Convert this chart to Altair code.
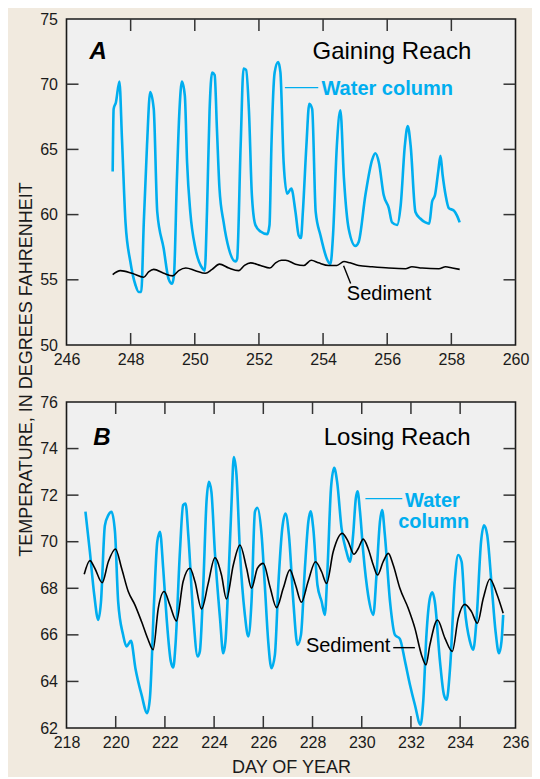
import altair as alt
import pandas as pd

# ---------------- Panel A: Gaining Reach ----------------
a_water_day = [247.44, 247.47, 247.54, 247.65, 247.73, 247.84, 247.99, 248.15, 248.25, 248.33,
               248.41, 248.51, 248.61, 248.72, 248.83, 249.03, 249.18, 249.29, 249.35, 249.44,
               249.52, 249.60, 249.69, 249.76, 249.86, 250.02, 250.23, 250.31, 250.38, 250.46,
               250.54, 250.62, 250.69, 250.77, 250.90, 251.06, 251.27, 251.32, 251.43, 251.52,
               251.60, 251.69, 251.78, 251.89, 252.05, 252.26, 252.33, 252.39, 252.49, 252.60,
               252.67, 252.77, 252.88, 253.01, 253.14, 253.24, 253.31, 253.37, 253.48, 253.57,
               253.66, 253.77, 253.92, 254.12, 254.23, 254.31, 254.43, 254.54, 254.65, 254.80,
               255.01, 255.11, 255.32, 255.53, 255.63, 255.74, 255.89, 256.05, 256.15, 256.31,
               256.42, 256.55, 256.64, 256.73, 256.88, 257.03, 257.19, 257.31, 257.40, 257.49,
               257.59, 257.66, 257.73, 257.82, 257.92, 258.08, 258.18, 258.26]
a_water_temp = [63.3, 68.1, 68.6, 70.2, 65.8, 59.4, 56.4, 54.6, 54.06, 54.06,
                59.4, 65.3, 69.4, 68.1, 60.2, 57.4, 55.1, 54.7, 55.3, 62.5,
                67.9, 70.2, 69.1, 64.0, 60.2, 57.4, 55.9, 55.7, 60.2, 67.9,
                70.9, 70.7, 66.6, 62.0, 59.4, 57.4, 56.4, 56.6, 65.3, 71.2,
                71.1, 67.9, 61.5, 59.2, 58.7, 58.5, 59.2, 65.3, 70.9, 71.7,
                70.9, 64.0, 61.6, 62.0, 60.2, 58.4, 58.2, 60.2, 65.3, 68.5,
                68.1, 60.2, 58.4, 56.6, 56.2, 58.4, 65.3, 68.0, 62.8, 58.9,
                57.6, 57.9, 61.5, 64.2, 64.7, 64.0, 61.5, 60.5, 59.4, 59.2,
                60.7, 65.3, 66.8, 65.3, 60.2, 59.7, 59.4, 59.3, 61.0, 61.5,
                63.3, 64.5, 63.0, 61.5, 60.5, 60.3, 59.9, 59.4]

a_sed_day = [247.44, 247.68, 248.04, 248.41, 248.56, 248.72, 249.03, 249.31, 249.50, 249.72,
             250.02, 250.33, 250.54, 250.77, 251.06, 251.37, 251.55, 251.74, 252.05, 252.34,
             252.52, 252.70, 252.83, 253.14, 253.40, 253.63, 253.86, 254.18, 254.43, 254.65,
             254.84, 255.11, 255.53, 256.05, 256.57, 256.77, 257.09, 257.61, 257.82, 258.03,
             258.26]
a_sed_temp = [55.4, 55.7, 55.5, 55.2, 55.6, 55.8, 55.5, 55.3, 55.7, 55.9,
              55.7, 55.5, 55.8, 56.2, 55.9, 55.7, 56.1, 56.3, 56.1, 55.9,
              56.3, 56.5, 56.5, 56.2, 56.1, 56.5, 56.3, 56.1, 56.1, 56.4,
              56.3, 56.1, 56.0, 55.9, 55.85, 56.0, 55.9, 55.85, 56.0, 55.9,
              55.8]

# ---------------- Panel B: Losing Reach ----------------
b_water_day = [218.77, 218.95, 219.13, 219.29, 219.40, 219.56, 219.70, 219.83, 219.97, 220.10,
               220.30, 220.44, 220.62, 220.80, 221.05, 221.28, 221.39, 221.56, 221.69, 221.80,
               221.93, 222.07, 222.24, 222.34, 222.43, 222.61, 222.74, 222.84, 222.95, 223.15,
               223.33, 223.42, 223.56, 223.69, 223.79, 223.89, 224.03, 224.24, 224.37, 224.46,
               224.60, 224.71, 224.80, 224.91, 225.05, 225.25, 225.39, 225.52, 225.66, 225.76,
               225.93, 226.06, 226.20, 226.33, 226.47, 226.61, 226.77, 226.90, 227.04, 227.22,
               227.39, 227.53, 227.69, 227.83, 227.92, 228.03, 228.20, 228.37, 228.50, 228.61,
               228.75, 228.88, 229.00, 229.18, 229.38, 229.52, 229.65, 229.76, 229.83, 229.93,
               230.06, 230.26, 230.47, 230.60, 230.74, 230.83, 230.94, 231.15, 231.35, 231.55,
               231.76, 231.96, 232.16, 232.39, 232.50, 232.63, 232.77, 232.87, 232.97, 233.18,
               233.34, 233.45, 233.59, 233.79, 233.92, 234.06, 234.19, 234.40, 234.53, 234.67,
               234.85, 234.97, 235.10, 235.28, 235.44, 235.58, 235.68, 235.75]
b_water_temp = [71.29, 69.57, 67.70, 66.64, 67.40, 70.70, 71.14, 71.29, 70.43, 67.43,
                66.00, 65.50, 65.74, 64.57, 63.43, 62.64, 63.28, 67.43, 70.00, 70.43,
                68.86, 66.71, 64.86, 64.60, 65.57, 69.57, 71.57, 71.64, 70.29, 66.86,
                65.07, 65.29, 68.14, 71.71, 72.57, 72.14, 69.57, 66.71, 65.21, 65.71,
                68.86, 71.71, 73.64, 72.86, 69.57, 66.86, 65.93, 67.43, 71.29, 71.46,
                70.29, 68.14, 65.71, 64.57, 65.14, 68.14, 70.57, 71.21, 70.29, 67.43,
                65.57, 66.00, 68.86, 70.86, 71.31, 70.57, 68.14, 67.43, 66.86, 68.86,
                72.29, 73.17, 72.57, 70.57, 69.57, 69.14, 70.29, 71.86, 72.17, 71.29,
                69.57, 67.71, 66.86, 68.57, 70.86, 71.36, 70.29, 67.43, 66.00, 65.83,
                64.86, 63.86, 63.00, 62.14, 63.14, 66.00, 67.57, 67.83, 67.43, 64.86,
                63.43, 63.21, 64.57, 68.43, 69.43, 69.14, 67.14, 65.71, 65.36, 66.71,
                70.00, 70.71, 70.29, 68.14, 66.14, 65.21, 65.71, 66.86]

b_sed_day = [218.72, 218.95, 219.15, 219.45, 219.70, 219.99, 220.24, 220.51, 220.78, 221.05,
             221.32, 221.52, 221.73, 221.97, 222.20, 222.47, 222.74, 223.02, 223.22, 223.49,
             223.76, 224.03, 224.30, 224.50, 224.78, 225.05, 225.32, 225.52, 225.76, 226.00,
             226.27, 226.54, 226.81, 227.08, 227.31, 227.55, 227.82, 228.12, 228.37, 228.57,
             228.84, 229.21, 229.45, 229.68, 229.86, 230.06, 230.26, 230.47, 230.64, 230.87,
             231.08, 231.28, 231.55, 231.89, 232.16, 232.43, 232.61, 232.77, 233.08, 233.38,
             233.68, 233.92, 234.19, 234.46, 234.70, 234.94, 235.21, 235.48, 235.75]
b_sed_temp = [68.60, 69.19, 68.86, 68.24, 69.14, 69.69, 68.86, 67.86, 67.29, 66.57,
              65.79, 65.36, 67.14, 67.86, 67.29, 66.60, 68.29, 68.86, 68.29, 67.11,
              68.21, 69.31, 68.57, 67.54, 69.00, 69.86, 68.86, 68.00, 68.86, 69.07,
              68.07, 67.17, 68.00, 68.79, 68.14, 67.40, 68.29, 69.14, 68.71, 68.21,
              69.57, 70.36, 70.00, 69.46, 69.71, 70.11, 69.71, 69.00, 68.57, 69.14,
              69.50, 69.00, 68.00, 67.14, 66.29, 65.14, 64.71, 65.57, 66.64, 65.86,
              65.29, 66.71, 67.31, 67.00, 66.50, 67.57, 68.40, 67.79, 66.93]

# axis ticks / labels
a_x_labels = [246, 248, 250, 252, 254, 256, 258, 260]
a_y_labels = [50, 55, 60, 65, 70, 75]
b_x_labels = [218, 220, 222, 224, 226, 228, 230, 232, 234, 236.25]
b_y_labels = [62, 64, 66, 68, 70, 72, 74, 76]

FONT = "Liberation Sans"
WATER = "#00AEEF"
INK = "#1a1a1a"
BG = "#F1EADF"
PLOT_BG = "#F0F0F0"
W, H = 449, 326
TL = 12  # inward tick length


def panel(water_day, water_temp, sed_day, sed_temp, xdom, xlabels, ydom, ylabels,
          texts, leaders, x_title=None, label_expr=None, y_title=None):
    xs = alt.Scale(domain=xdom, nice=False, zero=False)
    ys = alt.Scale(domain=ydom, nice=False, zero=False)
    xaxis_kw = dict(values=xlabels, ticks=False, domain=False, grid=False,
                    labelFont=FONT, labelFontSize=16, labelColor=INK, labelPadding=6,
                    labelFlush=False, labelOverlap=False,
                    title=x_title, titleFont=FONT, titleFontSize=18,
                    titleFontWeight="normal", titleColor=INK, titlePadding=8)
    if label_expr:
        xaxis_kw["labelExpr"] = label_expr
    yaxis_kw = dict(values=ylabels, ticks=False, domain=False, grid=False,
                    labelFont=FONT, labelFontSize=16, labelColor=INK, labelPadding=9,
                    labelFlush=False, labelOverlap=False,
                    title=y_title, titleFont=FONT, titleFontSize=18,
                    titleFontWeight="normal", titleColor=INK)
    if y_title:
        yaxis_kw["titleY"] = -33
        yaxis_kw["titlePadding"] = 4
    xaxis = alt.Axis(**xaxis_kw)
    yaxis = alt.Axis(**yaxis_kw)
    X = lambda f="day": alt.X(f"{f}:Q", scale=xs, axis=xaxis)
    Y = lambda f="temp": alt.Y(f"{f}:Q", scale=ys, axis=yaxis)

    wdf = pd.DataFrame({"day": water_day, "temp": water_temp})
    sdf = pd.DataFrame({"day": sed_day, "temp": sed_temp})
    water = alt.Chart(wdf).mark_line(color=WATER, strokeWidth=2.6,
                                     interpolate="monotone").encode(x=X(), y=Y())
    sed = alt.Chart(sdf).mark_line(color="black", strokeWidth=1.6,
                                   interpolate="monotone").encode(x=X(), y=Y())

    inner_x = pd.DataFrame({"day": [v for v in xlabels if xdom[0] < v < xdom[1]]})
    inner_y = pd.DataFrame({"temp": [v for v in ylabels if ydom[0] < v < ydom[1]]})
    tick_style = dict(color="#333333", strokeWidth=1.5)
    t_bot = alt.Chart(inner_x).mark_rule(**tick_style).encode(
        x=X(), y=alt.value(H - TL), y2=alt.value(H))
    t_top = alt.Chart(inner_x).mark_rule(**tick_style).encode(
        x=X(), y=alt.value(0), y2=alt.value(TL))
    t_left = alt.Chart(inner_y).mark_rule(**tick_style).encode(
        y=Y(), x=alt.value(0), x2=alt.value(TL))
    t_right = alt.Chart(inner_y).mark_rule(**tick_style).encode(
        y=Y(), x=alt.value(W - TL), x2=alt.value(W))

    layers = [water, sed, t_bot, t_top, t_left, t_right]
    for (d, t, d2, t2, col) in leaders:
        ldf = pd.DataFrame({"day": [d], "temp": [t], "day2": [d2], "temp2": [t2]})
        layers.append(alt.Chart(ldf).mark_rule(color=col, strokeWidth=1.4).encode(
            x=X(), y=Y(), x2="day2:Q", y2="temp2:Q"))
    for (d, t, txt, props) in texts:
        tdf = pd.DataFrame({"day": [d], "temp": [t], "label": [txt]})
        layers.append(alt.Chart(tdf).mark_text(font=FONT, baseline="alphabetic", **props).encode(
            x=X(), y=Y(), text="label:N"))
    return alt.layer(*layers).properties(width=W, height=H)


letter = dict(fontSize=24, fontWeight="bold", fontStyle="italic", color="black", align="left")
reach = dict(fontSize=24, color="black", align="right")
wlab = dict(fontSize=20, fontWeight="bold", color=WATER, align="left")
slab = dict(fontSize=20, color="black", align="left")

chart_a = panel(
    a_water_day, a_water_temp, a_sed_day, a_sed_temp,
    [246, 260], a_x_labels, [50, 75], a_y_labels,
    texts=[(246.72, 71.97, "A", letter),
           (258.62, 71.97, "Gaining Reach", reach),
           (253.95, 69.18, "Water column", wlab),
           (254.74, 53.43, "Sediment", slab)],
    leaders=[(252.81, 69.74, 253.85, 69.74, WATER),
             (254.64, 56.07, 254.86, 54.71, "black")],
)

chart_b = panel(
    b_water_day, b_water_temp, b_sed_day, b_sed_temp,
    [218, 236.25], b_x_labels, [62, 76], b_y_labels,
    texts=[(219.09, 74.17, "B", letter),
           (234.42, 74.15, "Losing Reach", reach),
           (231.76, 71.50, "Water", wlab),
           (231.48, 70.59, "column", wlab),
           (227.73, 65.25, "Sediment", slab)],
    leaders=[(230.15, 71.85, 231.65, 71.85, WATER),
             (231.28, 65.45, 232.16, 65.45, "black")],
    x_title="DAY OF YEAR",
    label_expr="datum.value > 235 ? '236' : datum.label",
    y_title="TEMPERATURE, IN DEGREES FAHRENHEIT",
)

chart = alt.vconcat(chart_a, chart_b, spacing=57, bounds="flush").properties(
    padding={"left": 8.5, "top": 2, "right": 1, "bottom": 0},
    background=BG,
).configure_view(stroke=INK, strokeWidth=1.6, fill=PLOT_BG)

chart.save("out.html", embed_options={"renderer": "svg", "actions": False})
